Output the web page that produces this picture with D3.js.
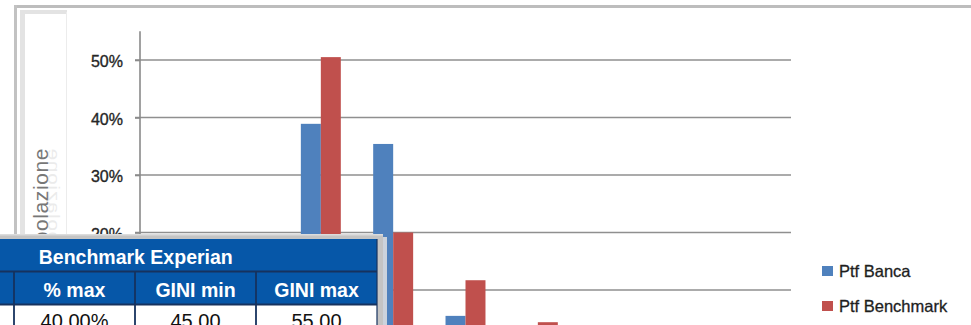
<!DOCTYPE html>
<html>
<head>
<meta charset="utf-8">
<script src="https://cdn.jsdelivr.net/npm/d3@7"></script>
<style>
  html, body { margin: 0; padding: 0; background: #fff; overflow: hidden; }
  svg { display: block; font-family: "Liberation Sans", Arial, sans-serif; }
</style>
</head>
<body>
<script>
// Rating classes and share of population per portfolio
const categories = ["1", "2", "3", "4", "5", "6", "7", "8", "9"];
const seriesNames = ["Ptf Banca", "Ptf Benchmark"];
const ptfBanca = [0.040, 0.140, 0.389, 0.354, 0.055, 0.022, 0.000, 0.000, 0.000];
const ptfBenchmark = [0.020, 0.098, 0.505, 0.200, 0.117, 0.044, 0.016, 0.000, 0.000];
const yTicks = [0, 0.1, 0.2, 0.3, 0.4, 0.5];
const yMax = 0.55;
const axisTitle = "% Popolazione";

// Benchmark table
const tableTitle = "Benchmark Experian";
const tableHeaders = ["", "% max", "GINI min", "GINI max"];
const tableValues = ["", "40,00%", "45,00", "55,00"];

const colors = { "Ptf Banca": "#4F81BD", "Ptf Benchmark": "#C0504D" };
const seriesValues = { "Ptf Banca": ptfBanca, "Ptf Benchmark": ptfBenchmark };

const W = 971, H = 325;
const svg = d3.select("body").append("svg").attr("width", W).attr("height", H);

// Chart area frame
svg.append("line").attr("x1", 14).attr("x2", W).attr("y1", 6.5).attr("y2", 6.5)
  .attr("stroke", "#bdbdbd").attr("stroke-width", 3);
svg.append("line").attr("x1", 15.5).attr("x2", 15.5).attr("y1", 5).attr("y2", H)
  .attr("stroke", "#c2c2c2").attr("stroke-width", 3);

// Axis title box
svg.append("rect").attr("x", 20).attr("y", 10).attr("width", 47).attr("height", 4).attr("fill", "#e3e3e3");
svg.append("rect").attr("x", 20).attr("y", 10).attr("width", 5).attr("height", 320).attr("fill", "#e3e3e3");
svg.append("line").attr("x1", 66.5).attr("x2", 66.5).attr("y1", 12).attr("y2", H)
  .attr("stroke", "#ececec").attr("stroke-width", 1);

// Scales
const plotLeft = 140, plotRight = 791;
const x0 = d3.scaleBand().domain(categories).range([plotLeft, plotRight]).padding(0);
const gapRatio = 1.62; // gap between groups relative to one bar
const barW = x0.bandwidth() / (seriesNames.length + gapRatio);
const x1 = d3.scaleBand().domain(seriesNames)
  .range([barW * gapRatio / 2, x0.bandwidth() - barW * gapRatio / 2]).padding(0);
const y = d3.scaleLinear().domain([0, yMax]).range([347.5, 347.5 - yMax * 575]);

// Gridlines
svg.append("g").selectAll("line").data(yTicks.filter(d => d > 0)).join("line")
  .attr("x1", plotLeft - 5).attr("x2", plotRight)
  .attr("y1", d => y(d)).attr("y2", d => y(d))
  .attr("stroke", "#8f8f8f").attr("stroke-width", 1.6);

// Y axis
const yAxis = d3.axisLeft(y).tickValues(yTicks).tickFormat(d3.format(".0%"))
  .tickSize(5).tickPadding(12);
const gy = svg.append("g").attr("transform", `translate(${plotLeft},0)`).call(yAxis);
gy.select(".domain").remove();
gy.append("line").attr("x1", 0).attr("x2", 0).attr("y1", y(yMax)).attr("y2", y(0))
  .attr("stroke", "#8a8a8a").attr("stroke-width", 1.6);
gy.selectAll(".tick line").attr("stroke", "#8a8a8a").attr("stroke-width", 1.6);
gy.selectAll(".tick text").attr("fill", "#262626").attr("font-size", 16)
  .attr("stroke", "#262626").attr("stroke-width", 0.35)
  .attr("font-family", "'Liberation Sans', Arial, sans-serif").attr("dy", "0.42em");

// Bars
const groups = svg.append("g").selectAll("g").data(categories).join("g")
  .attr("transform", d => `translate(${x0(d)},0)`);
groups.selectAll("rect")
  .data((c, i) => seriesNames.map(s => ({ s, v: seriesValues[s][i] })))
  .join("rect")
  .attr("x", d => x1(d.s)).attr("width", x1.bandwidth())
  .attr("y", d => y(d.v)).attr("height", d => y(0) - y(d.v))
  .attr("fill", d => colors[d.s]);

// Axis title with faint reflection
const title = svg.append("g").attr("transform", "translate(48,148) rotate(-90)");
title.append("text").attr("text-anchor", "end").attr("font-size", 21)
  .attr("letter-spacing", 0.6).attr("fill", "#777").text(axisTitle);
title.append("text").attr("text-anchor", "end").attr("font-size", 21)
  .attr("letter-spacing", 0.6).attr("fill", "#777").attr("opacity", 0.14)
  .attr("transform", "scale(1,-0.8)").text(axisTitle);

// Legend
const legend = svg.append("g").selectAll("g").data(seriesNames).join("g")
  .attr("transform", (d, i) => `translate(822,${266 + i * 35})`);
legend.append("rect").attr("width", 11).attr("height", 10).attr("fill", d => colors[d]);
legend.append("text").attr("x", 17).attr("y", 11).attr("font-size", 16.5)
  .attr("fill", "#1e1e1e").attr("stroke", "#1e1e1e").attr("stroke-width", 0.3)
  .text(d => d);

// Table panel
const tbl = svg.append("g");
tbl.append("rect").attr("x", -10).attr("y", 234).attr("width", 393).attr("height", 100).attr("fill", "#c4c4c4");
tbl.append("rect").attr("x", -10).attr("y", 234).attr("width", 393).attr("height", 1.5).attr("fill", "#dcdcdc");
tbl.append("rect").attr("x", 383).attr("y", 237).attr("width", 4).attr("height", 100).attr("fill", "#e2e2e2").attr("opacity", 0.85);

const colX = [-107.5, 14, 135, 256, 377];
const blue = "#0657a8", dark = "#16325e";
tbl.append("rect").attr("x", colX[0]).attr("y", 239).attr("width", colX[4] - colX[0]).attr("height", 32).attr("fill", blue);
tbl.append("rect").attr("x", colX[0]).attr("y", 272).attr("width", colX[4] - colX[0]).attr("height", 32).attr("fill", blue);
tbl.append("rect").attr("x", colX[0]).attr("y", 305).attr("width", colX[4] - colX[0]).attr("height", 30).attr("fill", "#ffffff");
[271.5, 304.5].forEach(yy => tbl.append("line").attr("x1", colX[0]).attr("x2", colX[4])
  .attr("y1", yy).attr("y2", yy).attr("stroke", dark).attr("stroke-width", 2));
colX.slice(1, 4).forEach(xx => tbl.append("line").attr("x1", xx).attr("x2", xx)
  .attr("y1", 271).attr("y2", 335).attr("stroke", dark).attr("stroke-width", 1.8));
tbl.append("line").attr("x1", colX[4]).attr("x2", colX[4]).attr("y1", 239).attr("y2", 335)
  .attr("stroke", dark).attr("stroke-width", 1.2);

tbl.append("text").attr("x", (colX[0] + colX[4]) / 2 + 1).attr("y", 264)
  .attr("text-anchor", "middle").attr("font-size", 19.5).attr("font-weight", "bold")
  .attr("fill", "#fff").text(tableTitle);
tableHeaders.forEach((h, i) => {
  if (!h) return;
  tbl.append("text").attr("x", (colX[i] + colX[i + 1]) / 2).attr("y", 296.5)
    .attr("text-anchor", "middle").attr("font-size", 19.5).attr("font-weight", "bold")
    .attr("fill", "#fff").text(h);
});
tableValues.forEach((v, i) => {
  if (!v) return;
  tbl.append("text").attr("x", (colX[i] + colX[i + 1]) / 2).attr("y", 327.5)
    .attr("text-anchor", "middle").attr("font-size", 20)
    .attr("fill", "#111").text(v);
});
</script>
</body>
</html>
